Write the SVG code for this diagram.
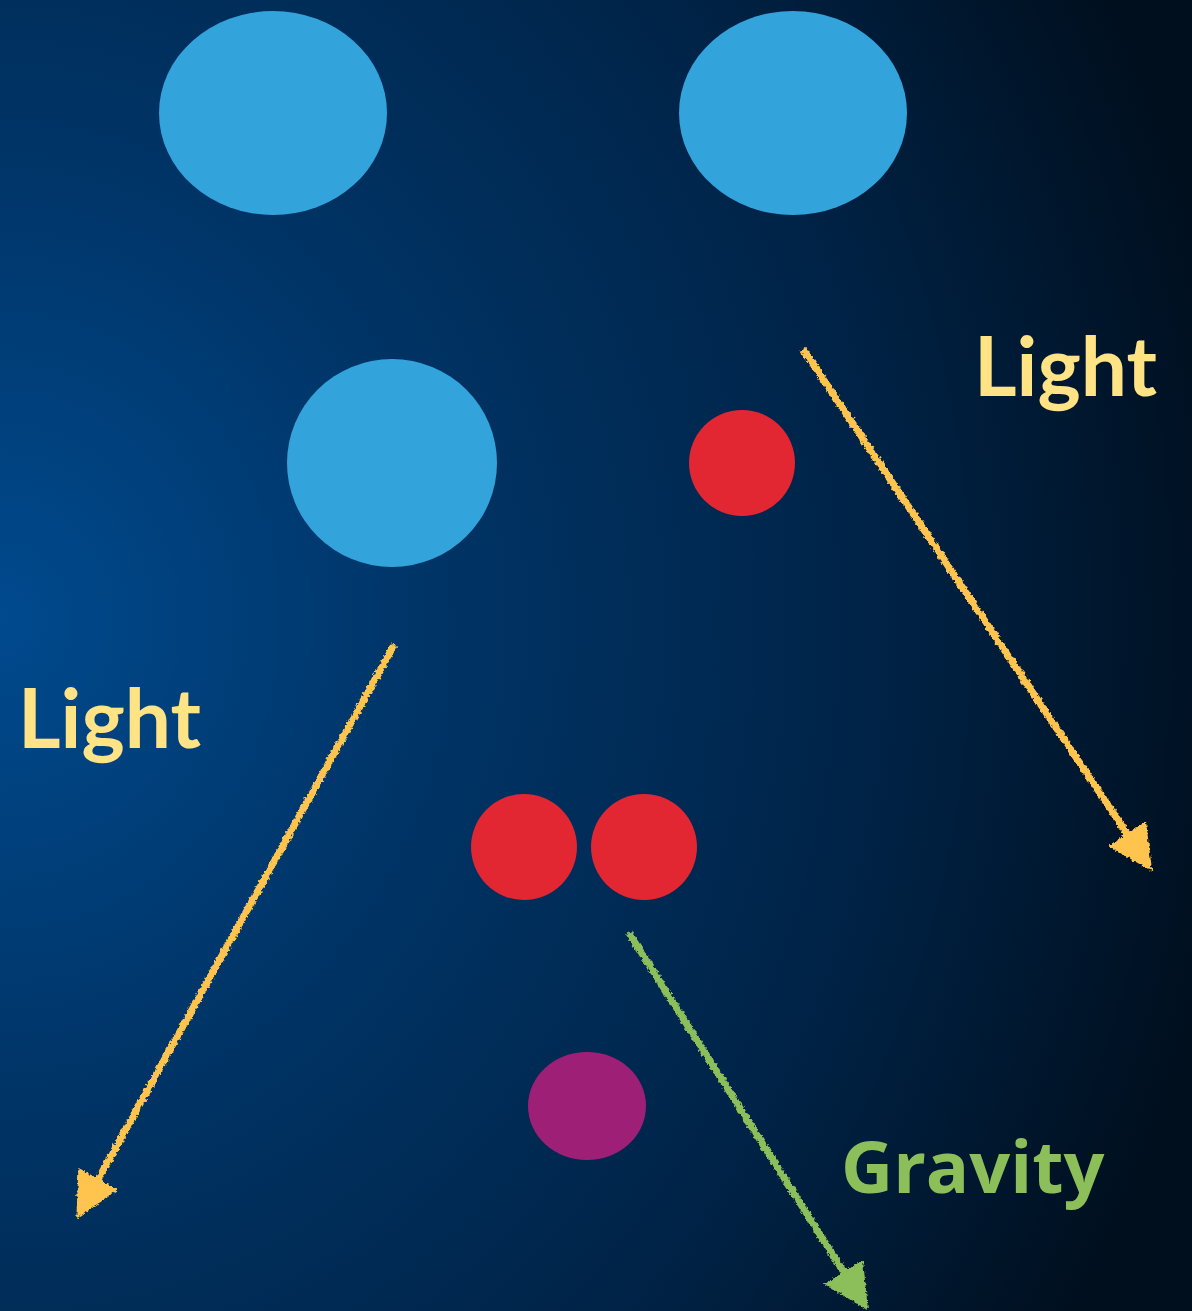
<svg xmlns="http://www.w3.org/2000/svg" width="1192" height="1311" viewBox="0 0 1192 1311">
<defs>
<radialGradient id="bg" gradientUnits="userSpaceOnUse" cx="0" cy="620" r="1250" gradientTransform="translate(0 620) scale(1 1.1) translate(0 -620)">
<stop offset="0" stop-color="#004A8E"/>
<stop offset="0.35" stop-color="#003466"/>
<stop offset="0.7" stop-color="#002347"/>
<stop offset="1" stop-color="#000F1E"/>
</radialGradient>
<filter id="rough" x="-10%" y="-10%" width="120%" height="120%">
<feTurbulence type="fractalNoise" baseFrequency="0.35" numOctaves="2" seed="3"/>
<feDisplacementMap in="SourceGraphic" scale="5" xChannelSelector="R" yChannelSelector="G"/>
</filter>
<marker id="headY" viewBox="0 0 12 12" refX="10" refY="6" markerWidth="6.5" markerHeight="6.5" orient="auto" markerUnits="strokeWidth">
<path d="M0,0 L12,6 L0,12 Z" fill="#FFC44D"/>
</marker>
<marker id="headG" viewBox="0 0 12 12" refX="10" refY="6" markerWidth="6.5" markerHeight="6.5" orient="auto" markerUnits="strokeWidth">
<path d="M0,0 L12,6 L0,12 Z" fill="#8CBF5A"/>
</marker>
</defs>
<style>
.blue{fill:#33A3DC}
.red{fill:#E22732}
.purple{fill:#9E1F76}
.light{font-family:Lato,"Open Sans",sans-serif;font-weight:bold;font-size:82px;fill:#FFE384}
.grav{font-family:"Open Sans","Noto Sans",sans-serif;font-weight:bold;font-size:72px;fill:#8CBF5A}
.arrY{stroke:#FFC44D;stroke-width:7;fill:none;marker-end:url(#headY)}
.arrG{stroke:#8CBF5A;stroke-width:7;fill:none;marker-end:url(#headG)}
</style>
<rect width="1192" height="1311" fill="url(#bg)"/>
<g id="n1"><ellipse class="blue" cx="273" cy="113" rx="114" ry="102"/></g>
<g id="n2"><ellipse class="blue" cx="793" cy="113" rx="114" ry="102"/></g>
<g id="n3"><ellipse class="blue" cx="392" cy="463" rx="105" ry="104"/></g>
<g id="n4"><circle class="red" cx="742" cy="463" r="53"/></g>
<g id="n5"><circle class="red" cx="524" cy="847" r="53"/></g>
<g id="n6"><circle class="red" cx="644" cy="847" r="53"/></g>
<g id="n7"><ellipse class="purple" cx="587" cy="1106" rx="59" ry="54"/></g>
<g id="labels">
<text class="light" x="974" y="396">Light</text>
<text class="light" x="18" y="748">Light</text>
<text class="grav" x="841" y="1193">Gravity</text>
</g>
<g id="connectors" filter="url(#rough)">
<line class="arrY" x1="803" y1="349" x2="1148" y2="865"/>
<line class="arrY" x1="394" y1="645" x2="80" y2="1212"/>
<line class="arrG" x1="629" y1="933" x2="864" y2="1304"/>
</g>
</svg>
